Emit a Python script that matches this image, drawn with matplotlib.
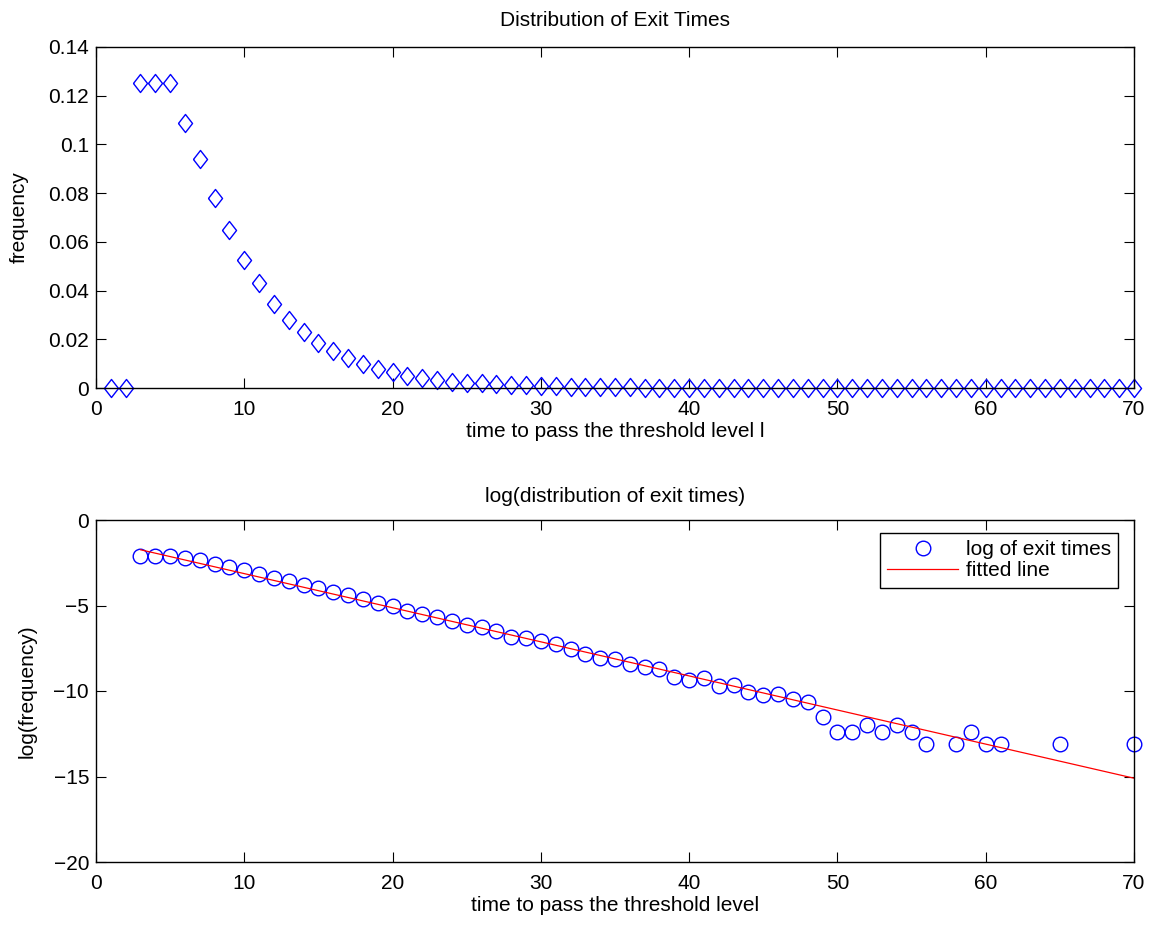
import numpy as np
import matplotlib
matplotlib.use("Agg")
import matplotlib.pyplot as plt

# ---------------- data ----------------
time_steps = list(range(1, 71))
frequency = [
    0.0, 0.0, 0.1253, 0.1253, 0.1253, 0.1090, 0.0940, 0.0781, 0.0647, 0.0524,
    0.0431, 0.0346, 0.0278, 0.0230, 0.0185, 0.0151, 0.0123, 0.0100, 0.0080, 0.00641,
    0.00499, 0.00409, 0.00345, 0.00266, 0.00220, 0.00189, 0.00152, 0.00107, 0.00103, 0.000850,
    0.000724, 0.000542, 0.000406, 0.000322, 0.000292, 0.000218, 0.000181, 0.000163, 0.0001002, 8.80e-5,
    9.53e-5, 6.20e-5, 6.58e-5, 4.28e-5, 3.68e-5, 3.76e-5, 2.84e-5, 2.44e-5, 1.02e-5, 4.08e-6,
    4.08e-6, 6.12e-6, 4.08e-6, 6.12e-6, 4.08e-6, 2.04e-6, 0.0, 2.04e-6, 4.08e-6, 2.04e-6,
    2.04e-6, 0.0, 0.0, 0.0, 2.04e-6, 0.0, 0.0, 0.0, 0.0, 2.04e-6,
]
fit_slope = -0.1994
fit_intercept = -1.142
fit_range = [3, 70]

top_title = "Distribution of Exit Times"
top_xlabel = "time to pass the threshold level l"
top_ylabel = "frequency"
bot_title = "log(distribution of exit times)"
bot_xlabel = "time to pass the threshold level"
bot_ylabel = "log(frequency)"
legend_labels = ["log of exit times", "fitted line"]
x_ticks = [0, 10, 20, 30, 40, 50, 60, 70]
top_yticks = [0, 0.02, 0.04, 0.06, 0.08, 0.1, 0.12, 0.14]
top_yticklabels = ["0", "0.02", "0.04", "0.06", "0.08", "0.1", "0.12", "0.14"]
bot_yticks = [-20, -15, -10, -5, 0]

# ---------------- fonts ----------------
plt.rcParams["font.family"] = ["Liberation Sans", "DejaVu Sans"]
fs = 15
plt.rcParams["font.size"] = fs
plt.rcParams["axes.unicode_minus"] = True

# ---------------- figure ----------------
W, H = 1150, 926
fig = plt.figure(figsize=(W / 100, H / 100), dpi=100)
ax1 = fig.add_axes([96 / W, 1 - 388 / H, (1134 - 96) / W, (388 - 47) / H])
ax2 = fig.add_axes([96 / W, 1 - 862 / H, (1134 - 96) / W, (862 - 520) / H])

t = np.array(time_steps, dtype=float)
f = np.array(frequency, dtype=float)

# diamond marker, a bit taller than wide (MATLAB style)
diamond = [(-0.78, 0), (0, 1), (0.78, 0), (0, -1), (-0.78, 0)]
ax1.plot(t, f, linestyle="none", marker=diamond, markersize=13,
         markerfacecolor="none", markeredgecolor="#0000ff", markeredgewidth=1.0,
         clip_on=False)

mask = f > 0
logf = np.log(f[mask])
ax2.plot(t[mask], logf, linestyle="none", marker="o", markersize=10.5,
         markerfacecolor="none", markeredgecolor="#0000ff", markeredgewidth=1.0,
         label=legend_labels[0], clip_on=False)
fx = np.array(fit_range, dtype=float)
ax2.plot(fx, fit_intercept + fit_slope * fx, color="#ff0000", linewidth=0.9,
         label=legend_labels[1])

for ax in (ax1, ax2):
    ax.set_xlim(0, 70)
    ax.set_xticks(x_ticks)
    ax.tick_params(direction="in", length=7, width=0.8, top=True, right=True,
                   labelsize=fs, colors="black")
    ax.tick_params(axis="x", pad=8.5)
    ax.tick_params(axis="y", pad=5)
    for sp in ax.spines.values():
        sp.set_linewidth(1.0)
        sp.set_color("black")

ax1.set_ylim(0, 0.14)
ax1.set_yticks(top_yticks)
ax1.set_yticklabels(top_yticklabels)
ax1.set_title(top_title, fontsize=fs, pad=15)
ax1.set_xlabel(top_xlabel, fontsize=fs, labelpad=2)
ax1.set_ylabel(top_ylabel, fontsize=fs, labelpad=14)

ax2.set_ylim(-20, 0)
ax2.set_yticks(bot_yticks)
ax2.set_title(bot_title, fontsize=fs, pad=13)
ax2.set_xlabel(bot_xlabel, fontsize=fs, labelpad=2)
ax2.set_ylabel(bot_ylabel, fontsize=fs, labelpad=12)

leg = ax2.legend(loc="upper right", fontsize=fs, frameon=True, fancybox=False,
                 edgecolor="black", framealpha=1.0, handlelength=3.4,
                 borderpad=0.35, labelspacing=0.1, handletextpad=0.35,
                 borderaxespad=0.0,
                 bbox_to_anchor=(1 - 16 / 1038, 1 - 13 / 342))
leg.get_frame().set_linewidth(1.0)

fig.savefig("out.png", dpi=100)
